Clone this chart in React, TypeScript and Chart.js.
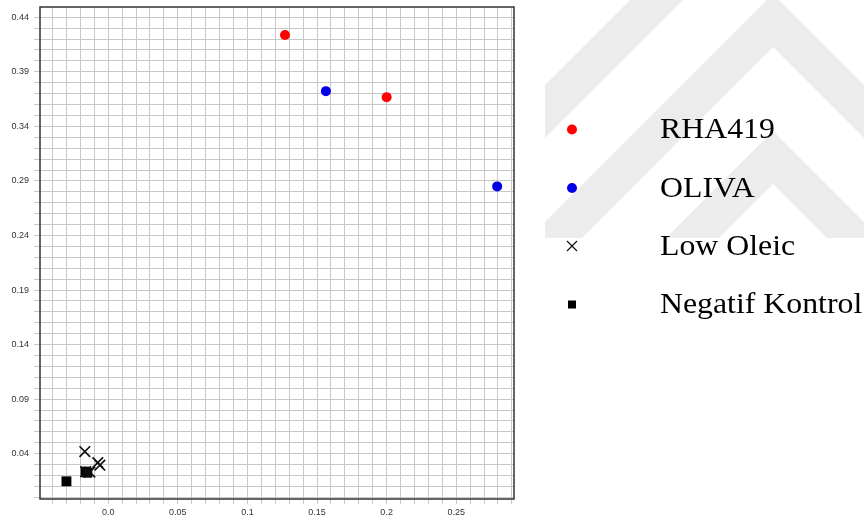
import React, { useEffect, useRef } from "react";
import { Chart, registerables } from "chart.js";

Chart.register(...registerables);

// Series values (x, y)
const rhaX = [0.127, 0.2];
const rhaY = [0.4238, 0.3668];
const olivaX = [0.1564, 0.2794];
const olivaY = [0.3723, 0.285];
const lowOleicX = [-0.0168, -0.0075, -0.006, -0.0162, -0.0132];
const lowOleicY = [0.042, 0.0318, 0.0295, 0.0235, 0.0232];
const negatifX = [-0.03, -0.0163, -0.015];
const negatifY = [0.0147, 0.0236, 0.0226];

const seriesNames = ["RHA419", "OLIVA", "Low Oleic", "Negatif Kontrol"];

// Axis tick labels (every fifth gridline is labelled)
const xTickLabels = ["0.0", "0.05", "0.1", "0.15", "0.2", "0.25"];
const yTickLabels = ["0.04", "0.09", "0.14", "0.19", "0.24", "0.29", "0.34", "0.39", "0.44"];

const xMin = -0.049;
const xMax = 0.2915;
const yMin = -0.0015;
const yMax = 0.4494;

const toPoints = (xs: number[], ys: number[]) => xs.map((x, i) => ({ x, y: ys[i] }));

const gridValues = (lo: number, hi: number) => {
  const out: { value: number }[] = [];
  for (let k = Math.ceil(lo * 100 - 1e-6); k <= Math.floor(hi * 100 + 1e-6); k++) {
    out.push({ value: k / 100 });
  }
  return out;
};

const labelFor = (labels: string[], v: number) => {
  const hit = labels.find((l) => Math.abs(parseFloat(l) - v) < 1e-6);
  return hit ?? "";
};

// Faint nested-chevron watermark behind the legend
const watermarkPlugin = {
  id: "watermark",
  beforeDraw(chart: any) {
    const { ctx } = chart;
    ctx.save();
    ctx.fillStyle = "#ffffff";
    ctx.fillRect(0, 0, chart.width, chart.height);
    const left = 545;
    const right = 864;
    const bottom = 238;
    const apexX = 773;
    ctx.beginPath();
    ctx.rect(left, 0, right - left, bottom);
    ctx.clip();
    ctx.fillStyle = "#ececec";
    const thick = 53;
    [-90, 47, 184, 321].forEach((lower) => {
      const upper = lower - thick;
      ctx.beginPath();
      ctx.moveTo(left, upper + (apexX - left));
      ctx.lineTo(apexX, upper);
      ctx.lineTo(right, upper + (right - apexX));
      ctx.lineTo(right, lower + (right - apexX));
      ctx.lineTo(apexX, lower);
      ctx.lineTo(left, lower + (apexX - left));
      ctx.closePath();
      ctx.fill();
    });
    ctx.restore();
    const a = chart.chartArea;
    ctx.save();
    ctx.fillStyle = "#ffffff";
    ctx.fillRect(a.left, a.top, a.right - a.left, a.bottom - a.top);
    ctx.restore();
  },
};

// Dark frame round the plot area
const framePlugin = {
  id: "frame",
  beforeDatasetsDraw(chart: any) {
    const { ctx, chartArea: a } = chart;
    ctx.save();
    ctx.strokeStyle = "#333333";
    ctx.lineWidth = 1.5;
    ctx.strokeRect(a.left, a.top, a.right - a.left, a.bottom - a.top);
    ctx.restore();
  },
};

// Legend drawn to the right of the plot
const legendPlugin = {
  id: "sideLegend",
  afterDraw(chart: any) {
    const { ctx } = chart;
    const markerX = 572;
    const textX = 660;
    const baselines = [138, 196.5, 254.5, 313];
    chart.data.datasets.forEach((ds: any, i: number) => {
      const base = baselines[i];
      const cy = base - 8.5;
      ctx.save();
      ctx.fillStyle = ds.backgroundColor;
      ctx.strokeStyle = ds.borderColor;
      if (ds.pointStyle === "circle") {
        ctx.beginPath();
        ctx.arc(markerX, cy, 5, 0, Math.PI * 2);
        ctx.fill();
      } else if (ds.pointStyle === "crossRot") {
        ctx.lineWidth = 1.2;
        ctx.beginPath();
        ctx.moveTo(markerX - 5, cy - 5);
        ctx.lineTo(markerX + 5, cy + 5);
        ctx.moveTo(markerX + 5, cy - 5);
        ctx.lineTo(markerX - 5, cy + 5);
        ctx.stroke();
      } else {
        ctx.fillRect(markerX - 4, cy - 4, 8, 8);
      }
      ctx.fillStyle = "#000000";
      ctx.font = "30px 'Liberation Serif', 'Times New Roman', serif";
      ctx.textBaseline = "alphabetic";
      ctx.textAlign = "left";
      ctx.translate(textX, base);
      ctx.scale(1.06, 1);
      ctx.fillText(ds.label, 0, 0);
      ctx.restore();
    });
  },
};

export default function App() {
  const canvasRef = useRef<HTMLCanvasElement | null>(null);

  useEffect(() => {
    if (!canvasRef.current) return;
    const tickFont = { family: "'Liberation Sans', Arial, sans-serif", size: 9 };
    const chart = new Chart(canvasRef.current, {
      type: "scatter",
      data: {
        datasets: [
          {
            label: seriesNames[0],
            data: toPoints(rhaX, rhaY),
            pointStyle: "circle",
            pointRadius: 5,
            backgroundColor: "#ff0000",
            borderColor: "#ff0000",
            borderWidth: 0,
          },
          {
            label: seriesNames[1],
            data: toPoints(olivaX, olivaY),
            pointStyle: "circle",
            pointRadius: 5,
            backgroundColor: "#0000e6",
            borderColor: "#0000e6",
            borderWidth: 0,
          },
          {
            label: seriesNames[2],
            data: toPoints(lowOleicX, lowOleicY),
            pointStyle: "crossRot",
            pointRadius: 7.5,
            backgroundColor: "#111111",
            borderColor: "#111111",
            borderWidth: 1.7,
          },
          {
            label: seriesNames[3],
            data: toPoints(negatifX, negatifY),
            pointStyle: "rect",
            pointRadius: 7,
            backgroundColor: "#000000",
            borderColor: "#000000",
            borderWidth: 0,
          },
        ],
      },
      options: {
        responsive: false,
        animation: false,
        events: [],
        layout: { autoPadding: false, padding: { top: 7, right: 350, left: 0, bottom: 0 } },
        plugins: {
          legend: { display: false },
          tooltip: { enabled: false },
        },
        scales: {
          x: {
            type: "linear",
            min: xMin,
            max: xMax,
            afterBuildTicks: (scale: any) => {
              scale.ticks = gridValues(xMin, xMax);
            },
            afterFit: (scale: any) => {
              scale.height = 23;
              scale.paddingLeft = 0;
              scale.paddingRight = 0;
            },
            grid: { color: "#c8c8c8", lineWidth: 1, tickLength: 5, drawTicks: true },
            border: { display: false },
            ticks: {
              autoSkip: false,
              maxRotation: 0,
              padding: 3,
              color: "#333333",
              font: tickFont,
              callback: (v: any) => labelFor(xTickLabels, Number(v)),
            },
          },
          y: {
            type: "linear",
            min: yMin,
            max: yMax,
            afterBuildTicks: (scale: any) => {
              scale.ticks = gridValues(yMin, yMax);
            },
            afterFit: (scale: any) => {
              scale.width = 40;
              scale.paddingTop = 0;
              scale.paddingBottom = 0;
            },
            grid: { color: "#c8c8c8", lineWidth: 1, tickLength: 6, drawTicks: true },
            border: { display: false },
            ticks: {
              autoSkip: false,
              padding: 5,
              color: "#333333",
              font: tickFont,
              callback: (v: any) => labelFor(yTickLabels, Number(v)),
            },
          },
        },
      },
      plugins: [watermarkPlugin, framePlugin, legendPlugin],
    } as any);
    return () => chart.destroy();
  }, []);

  return (
    <div style={{ position: "fixed", left: 0, top: 0, width: 864, height: 522, background: "#ffffff" }}>
      <canvas ref={canvasRef} width={864} height={522} style={{ display: "block" }} />
    </div>
  );
}
